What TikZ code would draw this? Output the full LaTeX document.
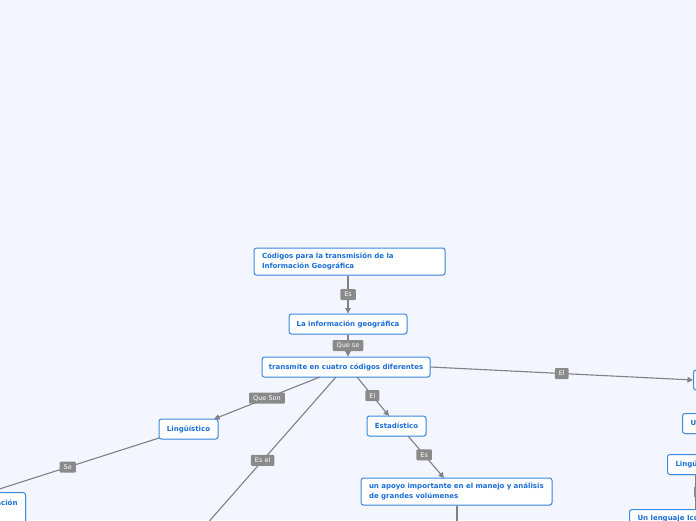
\documentclass[tikz,border=0pt]{standalone}
\usepackage{fontspec}
\setmainfont{DejaVu Sans}
\usetikzlibrary{arrows.meta,shadows}
\definecolor{bgc}{RGB}{243,246,254}
\definecolor{nodeborder}{RGB}{58,138,224}
\definecolor{nodetext}{RGB}{25,110,215}
\definecolor{connc}{RGB}{128,128,134}
\definecolor{labc}{RGB}{138,138,138}
\tikzset{
 idea/.style={draw=nodeborder, line width=1pt, fill=white, rounded corners=2.5pt,
   text=nodetext, font=\fontsize{7}{9.5}\selectfont\bfseries, inner sep=0pt,
   minimum height=20pt,
   drop shadow={shadow xshift=0.6pt, shadow yshift=-0.8pt, opacity=0.2}},
 ideatwo/.style={idea, text width=175pt, inner xsep=8pt, align=left, minimum height=27pt},
 idealeft/.style={idea, text width=90pt, inner xsep=8pt, align=left},
 link/.style={draw=connc, line width=1.1pt, -{Triangle[length=5.5pt,width=5.5pt]}},
 plainlink/.style={draw=connc, line width=1.1pt},
 lab/.style={fill=labc, text=white, font=\fontsize{6.5}{7}\selectfont, rounded corners=1pt,
   inner xsep=4pt, inner ysep=0pt, minimum height=11pt},
}
\begin{document}
\begin{tikzpicture}[x=1pt,y=-1pt]
\fill[bgc] (0,0) rectangle (696,520);
\useasboundingbox (0,0) rectangle (696,520);

\node[ideatwo] (cod) at (349.5,261.5) {Códigos para la transmisión de la\\Información Geográfica};
\node[idea, minimum width=118pt] (info) at (348,324) {La información geográfica};
\node[idea, minimum width=168pt] (trans) at (346,367) {transmite en cuatro códigos diferentes};
\node[idea, minimum width=59pt] (ling) at (188.5,429) {Lingüístico};
\node[idea, minimum width=59pt] (est) at (396.5,426) {Estadístico};
\node[ideatwo] (apoyo) at (456.5,491.5) {un apoyo importante en el manejo y análisis\\de grandes volúmenes};
\node[idea, minimum height=0pt, anchor=north east, inner xsep=8pt, inner ysep=8pt, text height=5pt, text depth=22pt] (comu) at (26,492) {Comunicación};
\node[idealeft, anchor=west] (ico) at (693,380) {Icónico};
\node[idealeft, anchor=north west] (uno) at (682,413) {Un código};
\node[idealeft, anchor=north west] (ling2) at (667,454) {Lingüístico};
\node[idea, minimum height=0pt, anchor=north west, inner xsep=8pt, inner ysep=6pt, text height=5pt, text depth=16pt] (leng) at (629,509) {Un lenguaje Icónico};

\coordinate (dl) at (205,526);
\coordinate (ad) at (457,526);
\coordinate (rtop) at (696,474);
\coordinate (rbot) at (696,509);

\draw[link] (cod.south -| info.north) -- node[lab] {Es} (info.north);
\draw[link] (info.south) -- node[lab] {Que se} (trans.north -| info.south);
\draw[link] (320,377) -- node[lab, pos=0.5] {Que Son} (214,419);
\draw[link] (357,377) -- node[lab, pos=0.48] {El} (389,416);
\draw[plainlink] (336,377) -- node[lab, pos=0.56] {Es el} (dl);
\draw[link] (159,438) -- node[lab, pos=0.54] {Se} (-10,492);
\draw[link] (408,436) -- node[lab, pos=0.45] {Es} (444,478);
\draw[plainlink] (apoyo.south -| ad) -- (ad);
\draw[link] (trans.east) -- node[lab, pos=0.5] {El} (ico.west);
\draw[plainlink] (rtop) -- (rbot);
\node[lab, anchor=west] (rlab) at (694,492) {Es};
\end{tikzpicture}
\end{document}
